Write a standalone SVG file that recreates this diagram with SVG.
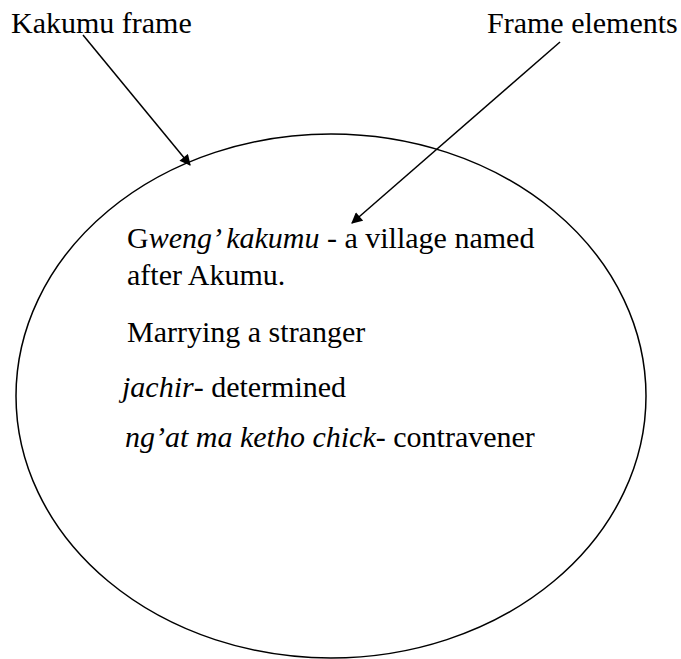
<svg xmlns="http://www.w3.org/2000/svg" width="681" height="659" viewBox="0 0 681 659">
  <style>
    text { font-family: "Liberation Serif", "Times New Roman", serif; font-size: 30px; fill: #000; }
    .it { font-style: italic; }
    .conn { stroke: #000; stroke-width: 1.5; fill: none; marker-end: url(#head); }
  </style>
  <defs>
    <marker id="head" viewBox="0 0 10 10" refX="9" refY="5" markerWidth="12" markerHeight="11" orient="auto" markerUnits="userSpaceOnUse">
      <path d="M0,0 L10,5 L0,10 z" fill="#000"/>
    </marker>
  </defs>
  <rect width="681" height="659" fill="#fff"/>

  <!-- frame boundary -->
  <g id="frame">
    <ellipse cx="331" cy="396" rx="315" ry="262" fill="none" stroke="#000" stroke-width="1.5"/>
  </g>

  <g id="label-frame">
    <text x="11" y="33">Kakumu frame</text>
  </g>
  <g id="label-elements">
    <text x="487" y="33">Frame elements</text>
  </g>

  <!-- frame elements listed inside the boundary -->
  <g id="elements">
    <text x="127" y="248">G<tspan class="it">weng’ kakumu</tspan> - a village named</text>
    <text x="127" y="285">after Akumu.</text>
    <text x="127" y="342">Marrying a stranger</text>
    <text x="122" y="397"><tspan class="it">jachir</tspan>- determined</text>
    <text x="125" y="447"><tspan class="it">ng’at ma ketho chick</tspan>- contravener</text>
  </g>

  <g id="connectors">
    <line class="conn" x1="83" y1="35" x2="190" y2="165"/>
    <line class="conn" x1="560" y1="42" x2="352" y2="223"/>
  </g>
</svg>
